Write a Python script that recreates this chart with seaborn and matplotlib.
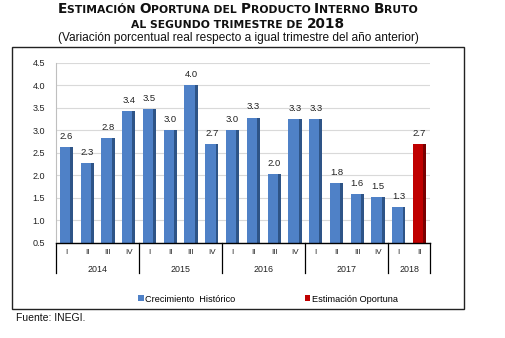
import matplotlib
matplotlib.use("Agg")
import matplotlib.pyplot as plt
import seaborn as sns
import pandas as pd
from matplotlib.patches import Rectangle, Patch
from matplotlib.offsetbox import TextArea, HPacker, AnchoredOffsetbox

# ---- data ----
anios = ["2014", "2015", "2016", "2017", "2018"]
trimestres = ["I", "II", "III", "IV", "I", "II", "III", "IV", "I", "II", "III", "IV",
              "I", "II", "III", "IV", "I", "II"]
anio_de_trim = ["2014"] * 4 + ["2015"] * 4 + ["2016"] * 4 + ["2017"] * 4 + ["2018"] * 2
valores = [2.63, 2.27, 2.83, 3.43, 3.47, 3.00, 4.00, 2.69, 3.00, 3.28, 2.02, 3.25,
           3.25, 1.83, 1.58, 1.52, 1.29, 2.69]
etiquetas = ["2.6", "2.3", "2.8", "3.4", "3.5", "3.0", "4.0", "2.7", "3.0", "3.3", "2.0", "3.3",
             "3.3", "1.8", "1.6", "1.5", "1.3", "2.7"]
series = ["Crecimiento  Histórico"] * 17 + ["Estimación Oportuna"]
yticks = [0.5, 1.0, 1.5, 2.0, 2.5, 3.0, 3.5, 4.0, 4.5]

colores = {"Crecimiento  Histórico": "#4F81C7", "Estimación Oportuna": "#C00000"}
sombras = {"Crecimiento  Histórico": "#2E5487", "Estimación Oportuna": "#7A0000"}

df = pd.DataFrame({
    "pos": [f"{a}-{t}-{i}" for i, (a, t) in enumerate(zip(anio_de_trim, trimestres))],
    "valor": valores,
    "serie": series,
})

plt.rcParams["font.family"] = ["Liberation Sans", "DejaVu Sans"]
W, H = 505, 338
fig = plt.figure(figsize=(W / 100, H / 100), dpi=100)
ax = fig.add_axes([56 / W, 1 - 243 / H, 374 / W, (243 - 62.7) / H])

sns.barplot(data=df, x="pos", y="valor", hue="serie", palette=colores, dodge=False,
            width=0.64, ax=ax, legend=False, saturation=1, edgecolor="none")

ax.set_ylim(0.5, 4.5)
ax.set_xlim(-0.5, len(valores) - 0.5)
ax.set_yticks(yticks)
ax.set_yticklabels([f"{v:.1f}" for v in yticks], fontsize=6.5, color="#222222")
ax.yaxis.grid(True, color="#D9D9D9", linewidth=0.8)
ax.set_axisbelow(True)
ax.tick_params(axis="y", length=0, pad=8)
ax.tick_params(axis="x", length=0, labelbottom=False)
ax.set_xlabel("")
ax.set_ylabel("")
for s in ["top", "right"]:
    ax.spines[s].set_visible(False)
ax.spines["left"].set_color("#BFBFBF")
ax.spines["left"].set_linewidth(0.8)
ax.spines["bottom"].set_color("black")
ax.spines["bottom"].set_linewidth(1.0)

# 3D-like shading on the right side of bars + data labels
patches = sorted([p for p in ax.patches if p.get_height() > 0], key=lambda p: p.get_x())
for p, lab, ser in zip(patches, etiquetas, series):
    x, w, hgt = p.get_x(), p.get_width(), p.get_height()
    sw = w * 0.22
    ax.add_patch(Rectangle((x + w - sw, p.get_y()), sw, hgt, facecolor=sombras[ser],
                           edgecolor="none", zorder=p.get_zorder() + 0.1))
    ax.annotate(lab, (x + w / 2, p.get_y() + hgt), xytext=(0, 4.5), textcoords="offset points",
                ha="center", va="bottom", fontsize=6.8, color="#222222")

# multi-level category axis
trans = ax.get_xaxis_transform()
for i, t in enumerate(trimestres):
    ax.text(i, -0.05, t, transform=trans, ha="center", va="center", fontsize=5.8, color="#222222")
bordes = [-0.5]
for a in anios:
    n = anio_de_trim.count(a)
    start = bordes[-1]
    ax.text(start + n / 2, -0.145, a, transform=trans, ha="center", va="center",
            fontsize=6.4, color="#222222")
    bordes.append(start + n)
for b in bordes:
    ax.plot([b, b], [0, -0.168], transform=trans, color="black", linewidth=0.9,
            clip_on=False)

# outer frame
fig.add_artist(Rectangle((12 / W, 1 - 309 / H), (464 - 12) / W, (309 - 47) / H,
                         transform=fig.transFigure, fill=False, edgecolor="#222222",
                         linewidth=1.0))

# legend
handles = [Patch(facecolor=colores[k], edgecolor="none") for k in colores]
fig.legend(handles, list(colores.keys()), loc="center", bbox_to_anchor=(268 / W, 1 - 299 / H),
           ncol=2, frameon=False, fontsize=6.6, handlelength=0.6, handleheight=0.6,
           handletextpad=0.15, columnspacing=7.6)

# title with small caps
big, small = 9.8, 7.75
def sc_line(parts):
    boxes = []
    for txt, big_flag in parts:
        boxes.append(TextArea(txt, textprops=dict(fontsize=big if big_flag else small,
                                                  fontweight="bold", color="#111111",
                                                  family=["DejaVu Sans"])))
    return HPacker(children=boxes, align="baseline", pad=0, sep=0)

line1 = sc_line([("E", True), ("STIMACIÓN ", False), ("O", True), ("PORTUNA DEL ", False),
                 ("P", True), ("RODUCTO ", False), ("I", True), ("NTERNO ", False),
                 ("B", True), ("RUTO", False)])
line2 = sc_line([("AL SEGUNDO TRIMESTRE DE ", False), ("2018", True)])
for ln, yc in [(line1, 9), (line2, 23.5)]:
    ab = AnchoredOffsetbox(loc="center", child=ln, pad=0, frameon=False,
                           bbox_to_anchor=(238 / W, 1 - yc / H),
                           bbox_transform=fig.transFigure, borderpad=0)
    fig.add_artist(ab)

fig.text(238 / W, 1 - 38.5 / H,
         "(Variación porcentual real respecto a igual trimestre del año anterior)",
         ha="center", va="center", fontsize=8.6, color="#111111")
fig.text(16 / W, 1 - 318 / H, "Fuente: INEGI.", ha="left", va="center", fontsize=7.5,
         color="#111111")

fig.savefig("out.png", dpi=100)
